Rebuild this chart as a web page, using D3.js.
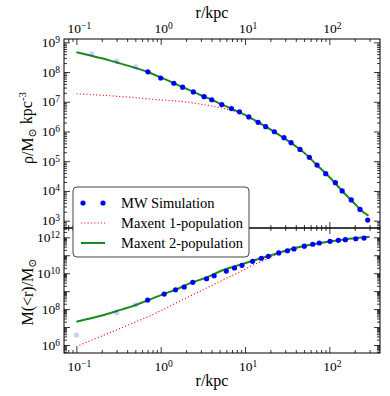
<!DOCTYPE html>
<html>
<head>
<meta charset="utf-8">
<script src="https://cdn.jsdelivr.net/npm/d3@7"></script>
<style>
  body { margin: 0; background: #fff; }
  svg text { font-family: "Liberation Serif", "Times New Roman", "DejaVu Serif", serif; fill: #000; }
</style>
</head>
<body>
<div id="graphics"></div>
<script>
var width = 390, height = 396;

// density panel: MW simulation points
var rhoSimR = [0.153, 0.30, 0.505, 0.706, 1.0, 1.43, 1.82, 2.44, 3.27, 4.03, 5.3, 6.9, 8.6, 11.1,
  14.3, 17.6, 22.3, 29, 35.2, 44.9, 58, 71.5, 90.6, 118, 142, 182, 231, 285];
var rhoSim = [4.1e8, 2.34e8, 1.48e8, 1.02e8, 6.3e7, 4.2e7, 3.1e7, 2.14e7, 1.48e7, 1.17e7, 8.1e6, 5.9e6, 4.6e6, 3.1e6,
  2.04e6, 1.45e6, 9.8e5, 6.2e5, 4.2e5, 2.5e5, 1.35e5, 7.4e4, 3.8e4, 1.9e4, 1.0e4, 5.0e3, 2.4e3, 1.05e3];

// density panel: maxent 2-population
var rho2R = [0.1, 0.15, 0.2, 0.3, 0.5, 0.7, 1, 1.5, 2, 3, 4, 5, 7, 10, 15, 20, 30, 40, 50, 70, 100, 150, 200, 250, 290];
var rho2 = [4.6e8, 3.55e8, 2.9e8, 2.1e8, 1.38e8, 1.0e8, 6.6e7, 4.0e7, 2.75e7, 1.66e7, 1.17e7, 8.7e6, 5.75e6, 3.6e6,
  1.9e6, 1.17e6, 5.6e5, 3.2e5, 1.95e5, 7.8e4, 2.95e4, 8.5e3, 3.7e3, 2.0e3, 1.48e3];

// density panel: maxent 1-population
var rho1R = [0.1, 0.2, 0.4, 0.7, 1, 1.5, 2.2, 3, 4, 5.5, 7, 8.8, 11, 14, 20, 30, 40, 50, 70, 100, 150, 200, 250, 290];
var rho1 = [1.86e7, 1.66e7, 1.45e7, 1.26e7, 1.15e7, 1.07e7, 9.5e6, 8.3e6, 7.2e6, 6.0e6, 5.0e6, 4.1e6, 3.0e6, 2.04e6,
  1.15e6, 5.6e5, 3.2e5, 1.95e5, 7.8e4, 2.95e4, 8.5e3, 3.7e3, 2.0e3, 1.48e3];

// enclosed mass panel: MW simulation points
var massSimR = [0.1, 0.3, 0.5, 0.7, 1.1, 1.5, 1.9, 2.4, 3.5, 4.3, 6.0, 7.5, 9.2, 12.3, 15.6, 18.9, 25.1,
  31.8, 38.1, 50.5, 63.5, 76, 102, 128, 155, 206, 258];
var massSim = [3.6e6, 6.3e7, 1.7e8, 3.2e8, 6.9e8, 1.2e9, 1.7e9, 3.1e9, 4.9e9, 7.2e9, 1.32e10, 1.95e10, 2.75e10,
  4.6e10, 6.8e10, 8.7e10, 1.35e11, 1.78e11, 2.24e11, 3.2e11, 4.1e11, 4.8e11, 6.0e11, 6.8e11, 7.4e11, 8.3e11, 9.1e11];

// enclosed mass panel: maxent 2-population
var mass2R = [0.1, 0.2, 0.3, 0.5, 0.75, 1.1, 1.5, 2.2, 3.5, 5.5, 9.2, 13.8, 20, 34, 50, 85, 150, 300];
var mass2 = [2.0e7, 4.4e7, 7.8e7, 1.66e8, 3.5e8, 7.1e8, 1.2e9, 2.7e9, 5.8e9, 1.5e10, 3.2e10, 5.8e10, 9.8e10,
  2.1e11, 3.3e11, 5.2e11, 7.6e11, 1.07e12];

// enclosed mass panel: maxent 1-population
var mass1R = [0.1, 0.2, 0.3, 0.5, 0.75, 1, 1.5, 2, 3, 5, 8, 12, 18, 25, 34, 50, 85, 150, 300];
var mass1 = [8.1e5, 3.2e6, 6.9e6, 1.9e7, 4.2e7, 8.1e7, 2.1e8, 4.1e8, 1.05e9, 3.4e9, 1.0e10, 2.6e10, 6.0e10,
  1.2e11, 2.0e11, 3.3e11, 5.2e11, 7.6e11, 1.07e12];

// simulation points inside this radius are drawn faded
var fadeRadius = 0.6;

var xTickExp = [-1, 0, 1, 2];
var rhoTickExp = [3, 4, 5, 6, 7, 8, 9];
var massTickExp = [6, 7, 8, 9, 10, 11, 12];
var massLabelExp = [6, 8, 10, 12];

var legendLabels = ["MW Simulation", "Maxent 1-population", "Maxent 2-population"];

var serif = '"Liberation Serif", "Times New Roman", "DejaVu Serif", serif';
var left = 64, right = 380, top1 = 39, mid = 228, bot2 = 353;

var x = d3.scaleLog().domain([Math.pow(10, -1.147), Math.pow(10, 2.601)]).range([left, right]);
var yRho = d3.scaleLog().domain([Math.pow(10, 2.754), Math.pow(10, 9.111)]).range([mid, top1]);
var yMass = d3.scaleLog().domain([Math.pow(10, 5.555), Math.pow(10, 12.518)]).range([bot2, mid]);

var svg = d3.select('#graphics').append('svg')
  .attr('width', width).attr('height', height)
  .attr('font-family', serif);

function minorTicks(scale) {
  var d = scale.domain(), out = [];
  var lo = Math.floor(Math.log10(d[0])), hi = Math.ceil(Math.log10(d[1]));
  for (var e = lo; e <= hi; e++) {
    for (var m = 2; m <= 9; m++) {
      var v = m * Math.pow(10, e);
      if (v >= d[0] && v <= d[1]) out.push(v);
    }
  }
  return out;
}

// write 10^n labels with a raised exponent
function powerLabel(sel) {
  sel.each(function(e) {
    var t = d3.select(this);
    t.text(null);
    t.append('tspan').text('10');
    t.append('tspan').attr('dy', '-0.42em').style('font-size', '9.5px')
      .text(e < 0 ? '\u2212' + (-e) : e);
  });
}

function drawPanel(yScale, y0, y1, majorExp, labelExp, xLabelsTop, clipId) {
  var g = svg.append('g');
  var xMajor = xTickExp.map(e => Math.pow(10, e));
  var yMajor = majorExp.map(e => Math.pow(10, e));

  // x ticks, top and bottom, pointing inward
  g.append('g').attr('transform', 'translate(0,' + y1 + ')')
    .call(d3.axisBottom(x).tickValues(minorTicks(x)).tickSizeInner(-3).tickSizeOuter(0).tickFormat(''));
  g.append('g').attr('transform', 'translate(0,' + y1 + ')')
    .call(d3.axisBottom(x).tickValues(xMajor).tickSizeInner(-6).tickSizeOuter(0).tickFormat(''));
  g.append('g').attr('transform', 'translate(0,' + y0 + ')')
    .call(d3.axisTop(x).tickValues(minorTicks(x)).tickSizeInner(-3).tickSizeOuter(0).tickFormat(''));
  g.append('g').attr('transform', 'translate(0,' + y0 + ')')
    .call(d3.axisTop(x).tickValues(xMajor).tickSizeInner(-6).tickSizeOuter(0).tickFormat(''));

  // y ticks, left and right
  g.append('g').attr('transform', 'translate(' + left + ',0)')
    .call(d3.axisLeft(yScale).tickValues(minorTicks(yScale)).tickSizeInner(-3).tickSizeOuter(0).tickFormat(''));
  g.append('g').attr('transform', 'translate(' + left + ',0)')
    .call(d3.axisLeft(yScale).tickValues(yMajor).tickSizeInner(-6).tickSizeOuter(0).tickFormat(''));
  g.append('g').attr('transform', 'translate(' + right + ',0)')
    .call(d3.axisRight(yScale).tickValues(minorTicks(yScale)).tickSizeInner(-3).tickSizeOuter(0).tickFormat(''));
  g.append('g').attr('transform', 'translate(' + right + ',0)')
    .call(d3.axisRight(yScale).tickValues(yMajor).tickSizeInner(-6).tickSizeOuter(0).tickFormat(''));

  g.selectAll('.domain').remove();
  g.selectAll('.tick line').attr('stroke', '#000').attr('stroke-width', 0.8);

  // y tick labels
  g.selectAll('.ylab').data(labelExp).enter().append('text')
    .attr('class', 'ylab')
    .attr('x', left - 4)
    .attr('y', e => yScale(Math.pow(10, e)) + 4.5)
    .attr('text-anchor', 'end')
    .style('font-size', '13.5px')
    .call(powerLabel);

  // x tick labels
  g.selectAll('.xlab').data(xTickExp).enter().append('text')
    .attr('class', 'xlab')
    .attr('x', e => x(Math.pow(10, e)) + 3)
    .attr('y', xLabelsTop ? y0 - 6 : y1 + 18)
    .attr('text-anchor', 'middle')
    .style('font-size', '13.5px')
    .call(powerLabel);

  svg.append('clipPath').attr('id', clipId).append('rect')
    .attr('x', left).attr('y', y0).attr('width', right - left).attr('height', y1 - y0);

  return g;
}

drawPanel(yRho, top1, mid, rhoTickExp, rhoTickExp, true, 'clipTop');
drawPanel(yMass, mid, bot2, massTickExp, massLabelExp, false, 'clipBot');

function drawSeries(yScale, clipId, simR, sim, r1, v1, r2, v2) {
  var g = svg.append('g').attr('clip-path', 'url(#' + clipId + ')');
  var line = d3.line().x(d => x(d[0])).y(d => yScale(d[1])).curve(d3.curveMonotoneX);

  g.append('path')
    .datum(d3.zip(r1, v1))
    .attr('fill', 'none')
    .attr('stroke', '#ff0000')
    .attr('stroke-width', 1.1)
    .attr('stroke-dasharray', '1.1,2.2')
    .attr('d', line);

  g.append('path')
    .datum(d3.zip(r2, v2))
    .attr('fill', 'none')
    .attr('stroke', '#1a8a1a')
    .attr('stroke-width', 2)
    .attr('d', line);

  g.selectAll('circle').data(d3.zip(simR, sim)).enter().append('circle')
    .attr('cx', d => x(d[0]))
    .attr('cy', d => yScale(d[1]))
    .attr('r', 2.6)
    .attr('fill', '#0000ff')
    .attr('fill-opacity', d => d[0] < fadeRadius ? 0.2 : 1);
}

drawSeries(yRho, 'clipTop', rhoSimR, rhoSim, rho1R, rho1, rho2R, rho2);
drawSeries(yMass, 'clipBot', massSimR, massSim, mass1R, mass1, mass2R, mass2);

// frames
svg.append('rect').attr('x', left).attr('y', top1).attr('width', right - left).attr('height', mid - top1)
  .attr('fill', 'none').attr('stroke', '#000').attr('stroke-width', 1);
svg.append('rect').attr('x', left).attr('y', mid).attr('width', right - left).attr('height', bot2 - mid)
  .attr('fill', 'none').attr('stroke', '#000').attr('stroke-width', 1);

// axis titles
svg.append('text').attr('x', 212).attr('y', 18).attr('text-anchor', 'middle')
  .style('font-size', '16px').text('r/kpc');
svg.append('text').attr('x', 212).attr('y', 386).attr('text-anchor', 'middle')
  .style('font-size', '16px').text('r/kpc');

var yl1 = svg.append('text').attr('transform', 'translate(33,128) rotate(-90)')
  .attr('text-anchor', 'middle').style('font-size', '16px');
yl1.append('tspan').text('\u03c1/M');
yl1.append('tspan').attr('dy', '0.3em').style('font-size', '11px').text('\u2299');
yl1.append('tspan').attr('dy', '-0.3em').text(' kpc');
yl1.append('tspan').attr('dy', '-0.5em').style('font-size', '11px').text('-3');

var yl2 = svg.append('text').attr('transform', 'translate(33,292) rotate(-90)')
  .attr('text-anchor', 'middle').style('font-size', '16px');
yl2.append('tspan').text('M(<r)/M');
yl2.append('tspan').attr('dy', '0.3em').style('font-size', '11px').text('\u2299');

// legend
var legend = svg.append('g');
legend.append('rect').attr('x', 73).attr('y', 187).attr('width', 176).attr('height', 70)
  .attr('rx', 4).attr('fill', '#fff').attr('stroke', '#444').attr('stroke-width', 1);

var rows = legend.selectAll('.row').data(legendLabels).enter().append('g')
  .attr('class', 'row')
  .attr('transform', (d, i) => 'translate(0,' + (203 + i * 20) + ')');

rows.append('text').attr('x', 121).attr('y', 5).style('font-size', '14.5px').text(d => d);

d3.select(rows.nodes()[0]).selectAll('circle').data([83, 103]).enter().append('circle')
  .attr('cx', d => d).attr('cy', 0).attr('r', 2.6).attr('fill', '#0000ff');
d3.select(rows.nodes()[1]).append('line')
  .attr('x1', 81).attr('x2', 105).attr('y1', 0).attr('y2', 0)
  .attr('stroke', '#ff0000').attr('stroke-width', 1.1).attr('stroke-dasharray', '1.1,2.2');
d3.select(rows.nodes()[2]).append('line')
  .attr('x1', 81).attr('x2', 105).attr('y1', 0).attr('y2', 0)
  .attr('stroke', '#1a8a1a').attr('stroke-width', 2);
</script>
</body>
</html>
